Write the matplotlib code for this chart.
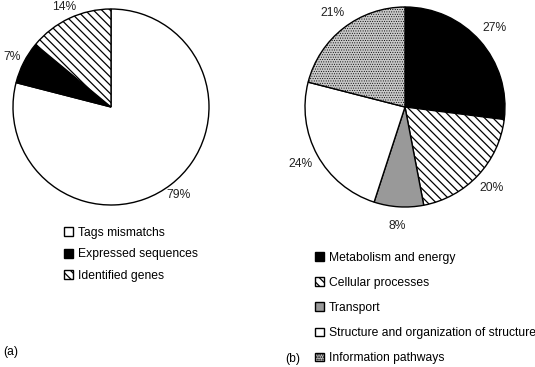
import matplotlib.pyplot as plt
from matplotlib.patches import Patch

plt.rcParams['font.family'] = ['Liberation Sans', 'DejaVu Sans']
plt.rcParams['hatch.linewidth'] = 0.9

W, H = 535, 367

# (a)
labels_a = ["Tags mismatchs", "Expressed sequences", "Identified genes"]
values_a = [79, 7, 14]
colors_a = ["white", "black", "white"]
hatches_a = [None, None, "\\\\\\\\"]

# (b)
labels_b = ["Metabolism and energy", "Cellular processes", "Transport",
            "Structure and organization of structure", "Information pathways"]
values_b = [27, 20, 8, 24, 21]
colors_b = ["black", "white", "#999999", "white", "#c8c8c8"]
hatches_b = [None, "\\\\\\\\", None, None, "......."]

FS = 8.7


def pie_axes(fig, cx, cy, r):
    ax = fig.add_axes([(cx - r) / W, (H - cy - r) / H, 2 * r / W, 2 * r / H])
    return ax


def draw_pie(ax, values, colors, hatches, pctdist):
    wedges, texts, autotexts = ax.pie(
        values, colors=colors, startangle=90, counterclock=False,
        autopct=lambda p: f"{p:.0f}%", pctdistance=pctdist,
        wedgeprops=dict(edgecolor="black", linewidth=1.0),
        textprops=dict(fontsize=FS, color="#222222"))
    for w, h in zip(wedges, hatches):
        w.set_clip_on(False)
        if h:
            w.set_hatch(h)
            if h.startswith(".") and hasattr(w, "set_hatch_linewidth"):
                w.set_hatch_linewidth(0.4)
    ax.set_xlim(-1, 1)
    ax.set_ylim(-1, 1)
    return wedges


def make_handles(labels, colors, hatches):
    return [Patch(facecolor=c, edgecolor="black", hatch=h, linewidth=1.0, label=l)
            for l, c, h in zip(labels, colors, hatches)]


fig = plt.figure(figsize=(W / 100, H / 100), dpi=100)

ax1 = pie_axes(fig, 111, 107, 98)
draw_pie(ax1, values_a, colors_a, hatches_a, 1.13)
ax2 = pie_axes(fig, 405, 107, 100)
draw_pie(ax2, values_b, colors_b, hatches_b, 1.19)

fig.legend(handles=make_handles(labels_a, colors_a, hatches_a),
           loc="upper left", bbox_to_anchor=(64 / W, 1 - 227 / H),
           frameon=False, fontsize=FS, handlelength=0.75, handleheight=0.75,
           handletextpad=0.4, labelspacing=0.78, borderpad=0, borderaxespad=0)
fig.legend(handles=make_handles(labels_b, colors_b, hatches_b),
           loc="upper left", bbox_to_anchor=(315 / W, 1 - 252 / H),
           frameon=False, fontsize=FS, handlelength=0.75, handleheight=0.75,
           handletextpad=0.4, labelspacing=1.08, borderpad=0, borderaxespad=0)

fig.text(3 / W, 1 - 352 / H, "(a)", fontsize=FS, va="center")
fig.text(285 / W, 1 - 359 / H, "(b)", fontsize=FS, va="center")

fig.savefig("out.png", dpi=100)
